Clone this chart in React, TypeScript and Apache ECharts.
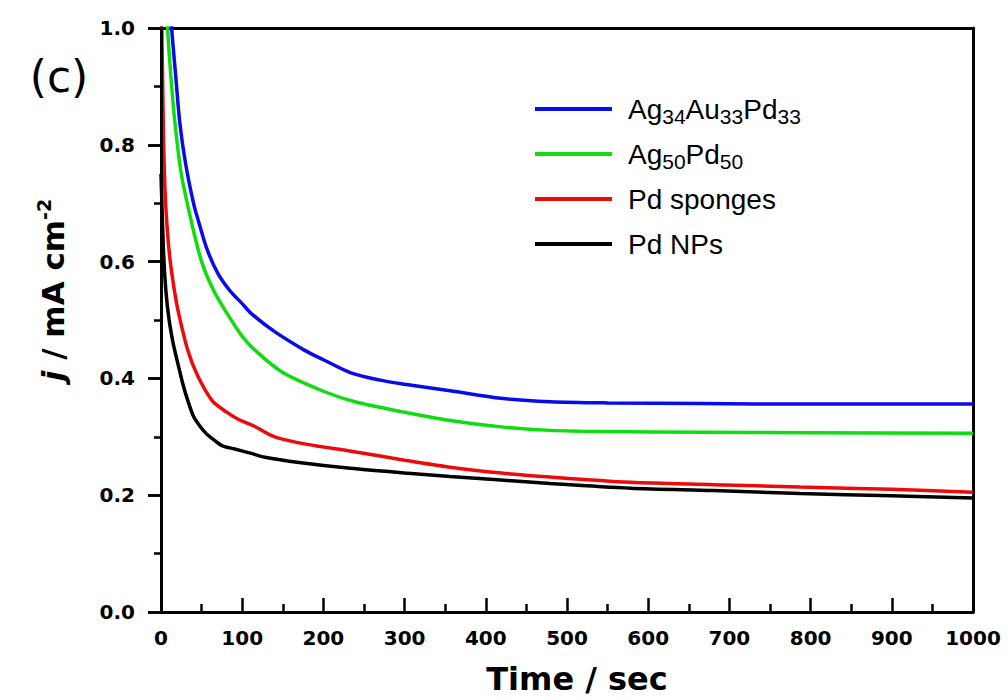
import React, { useEffect, useRef } from "react";
import * as echarts from "echarts";

const seriesNames = ["Ag34Au33Pd33", "Ag50Pd50", "Pd sponges", "Pd NPs"];
const seriesColors = ["#0a0aee", "#10dd10", "#ee0a0a", "#000000"];

const timeBlue = [10, 13, 18, 23, 30, 40, 46, 57, 70, 85, 100, 112, 140, 177, 200, 233, 270, 300, 356, 419, 479, 550, 664, 800, 1000];
const jBlue = [1.06, 1.0, 0.92, 0.84, 0.77, 0.7, 0.67, 0.62, 0.58, 0.55, 0.528, 0.51, 0.48, 0.448, 0.432, 0.41, 0.397, 0.39, 0.379, 0.366, 0.36, 0.358, 0.357, 0.356, 0.356];

const timeGreen = [5, 8, 12, 17, 25, 38, 50, 65, 81, 100, 116, 150, 200, 239, 300, 356, 419, 479, 550, 664, 800, 1000];
const jGreen = [1.08, 1.0, 0.92, 0.84, 0.75, 0.665, 0.6, 0.55, 0.512, 0.472, 0.448, 0.41, 0.378, 0.36, 0.342, 0.328, 0.317, 0.311, 0.309, 0.308, 0.307, 0.306];

const timeRed = [0, 1, 3, 5, 8, 11, 16, 21, 33, 45, 63, 80, 95, 115, 140, 180, 236, 300, 356, 419, 479, 578, 680, 787, 900, 1000];
const jRed = [1.05, 1.0, 0.82, 0.72, 0.65, 0.605, 0.555, 0.516, 0.448, 0.405, 0.362, 0.343, 0.33, 0.318, 0.3, 0.287, 0.275, 0.26, 0.248, 0.238, 0.231, 0.222, 0.218, 0.214, 0.21, 0.205];

const timeBlack = [0, 3, 6, 10, 15, 20, 27, 33, 40, 48, 56, 64, 75, 91, 110, 128, 170, 233, 300, 356, 419, 479, 578, 680, 787, 900, 1000];
const jBlack = [0.75, 0.62, 0.55, 0.5, 0.46, 0.43, 0.39, 0.362, 0.335, 0.318, 0.305, 0.296, 0.285, 0.279, 0.272, 0.265, 0.256, 0.246, 0.238, 0.232, 0.226, 0.22, 0.212, 0.208, 0.203, 0.199, 0.195];

const legendLabels: Record<string, string> = {
  "Ag34Au33Pd33": "{n|Ag}{s|34}{n|Au}{s|33}{n|Pd}{s|33}",
  "Ag50Pd50": "{n|Ag}{s|50}{n|Pd}{s|50}",
  "Pd sponges": "{n|Pd sponges}",
  "Pd NPs": "{n|Pd NPs}",
};

const xTickLabels = ["0", "100", "200", "300", "400", "500", "600", "700", "800", "900", "1000"];

const zip = (t: number[], v: number[]) => t.map((x, i) => [x, v[i]]);

export default function App() {
  const ref = useRef<HTMLDivElement>(null);
  useEffect(() => {
    if (!ref.current) return;
    const chart = echarts.init(ref.current, null, { renderer: "svg" });
    const tickFont = "DejaVu Sans";
    const lineSeries = (name: string, data: number[][]) => ({
      name,
      type: "line",
      data,
      showSymbol: false,
      symbol: "none",
      smooth: 0.3,
      clip: true,
      lineStyle: { width: 3.5 },
      xAxisIndex: 0,
      yAxisIndex: 0,
    });
    const frameAxis = {
      axisLine: { show: true, onZero: false, lineStyle: { color: "#000", width: 3 } },
      axisTick: { show: false },
      axisLabel: { show: false },
      splitLine: { show: false },
    };
    const hiddenX = (gridIndex: number) => ({
      type: "value",
      gridIndex,
      min: 0,
      max: 1,
      show: false,
    });
    chart.setOption({
      animation: false,
      backgroundColor: "#ffffff",
      color: seriesColors,
      grid: [
        { left: 161, top: 28, right: 35, bottom: 88 },
        { left: 148, width: 13, top: 28, bottom: 88 },
        { left: 154, width: 7, top: 28, bottom: 88 },
      ],
      xAxis: [
        {
          type: "value",
          position: "bottom",
          gridIndex: 0,
          min: 0,
          max: 1000,
          interval: 100,
          axisLine: { show: true, onZero: false, lineStyle: { color: "#000", width: 3 } },
          axisTick: { show: true, inside: true, length: 14, lineStyle: { color: "#000", width: 2.5 } },
          minorTick: { show: true, splitNumber: 2, length: 8, lineStyle: { color: "#000", width: 2.5 } },
          splitLine: { show: false },
          axisLabel: {
            show: true,
            margin: 16,
            fontFamily: tickFont,
            fontWeight: "bold",
            fontSize: 20,
            color: "#000",
            formatter: (v: number) => xTickLabels[Math.round(v / 100)] ?? String(v),
          },
        },
        { type: "value", position: "top", gridIndex: 0, min: 0, max: 1000, interval: 100, ...frameAxis },
        hiddenX(1),
        hiddenX(2),
      ],
      yAxis: [
        {
          type: "value",
          position: "left",
          gridIndex: 0,
          min: 0,
          max: 1,
          interval: 0.2,
          z: 10,
          axisLine: { show: true, onZero: false, lineStyle: { color: "#000", width: 3 } },
          axisTick: { show: true, inside: false, length: 13, lineStyle: { color: "#000", width: 2.5 } },
          splitLine: { show: false },
          axisLabel: { show: false },
        },
        { type: "value", position: "right", gridIndex: 0, min: 0, max: 1, interval: 0.2, ...frameAxis },
        {
          type: "value",
          gridIndex: 1,
          position: "left",
          min: 0,
          max: 1,
          interval: 0.2,
          axisLine: { show: false },
          axisTick: { show: false },
          splitLine: { show: true, lineStyle: { color: "#000", width: 2.5 } },
          axisLabel: {
            show: true,
            margin: 13,
            fontFamily: tickFont,
            fontWeight: "bold",
            fontSize: 20,
            color: "#000",
            formatter: (v: number) => v.toFixed(1),
          },
        },
        {
          type: "value",
          gridIndex: 2,
          min: 0,
          max: 1,
          interval: 0.2,
          minorTick: { show: false, splitNumber: 2 },
          axisLine: { show: false },
          axisTick: { show: false },
          axisLabel: { show: false },
          splitLine: { show: false },
          minorSplitLine: { show: true, lineStyle: { color: "#000", width: 2.5 } },
        },
      ],
      legend: {
        orient: "vertical",
        left: 530,
        top: 86,
        icon: "rect",
        itemWidth: 77,
        itemHeight: 4,
        itemGap: 9,
        data: seriesNames,
        formatter: (name: string) => legendLabels[name] ?? name,
        textStyle: {
          color: "#000",
          fontFamily: "Liberation Sans",
          fontSize: 28,
          lineHeight: 36,
          padding: [0, 0, 0, 11],
          rich: {
            n: { fontFamily: "Liberation Sans", fontSize: 28, lineHeight: 36, color: "#000" },
            s: { fontFamily: "Liberation Sans", fontSize: 21, lineHeight: 20, verticalAlign: "bottom", color: "#000" },
          },
        },
      },
      graphic: [
        {
          type: "text",
          x: 59,
          y: 76,
          style: {
            text: "(c)",
            fontFamily: "DejaVu Sans",
            fontSize: 44,
            fill: "#000",
            align: "center",
            verticalAlign: "middle",
          },
        },
        {
          type: "text",
          x: 577,
          y: 679,
          style: {
            text: "Time / sec",
            fontFamily: "DejaVu Sans",
            fontWeight: "bold",
            fontSize: 32,
            fill: "#000",
            align: "center",
            verticalAlign: "middle",
          },
        },
        {
          type: "text",
          x: 53,
          y: 290,
          rotation: Math.PI / 2,
          style: {
            text: "{i|j}{b| / mA cm}{sup|-2}",
            align: "center",
            verticalAlign: "middle",
            fill: "#000",
            rich: {
              i: { fontFamily: "DejaVu Sans", fontStyle: "italic", fontWeight: "bold", fontSize: 31, lineHeight: 38, fill: "#000" },
              b: { fontFamily: "DejaVu Sans", fontWeight: "bold", fontSize: 31, lineHeight: 38, fill: "#000" },
              sup: { fontFamily: "DejaVu Sans", fontWeight: "bold", fontSize: 19, lineHeight: 20, verticalAlign: "top", fill: "#000" },
            },
          },
        },
      ],
      series: [
        lineSeries(seriesNames[0], zip(timeBlue, jBlue)),
        lineSeries(seriesNames[1], zip(timeGreen, jGreen)),
        lineSeries(seriesNames[2], zip(timeRed, jRed)),
        lineSeries(seriesNames[3], zip(timeBlack, jBlack)),
      ],
    });
    return () => chart.dispose();
  }, []);
  return (
    <div
      ref={ref}
      style={{ position: "fixed", left: 0, top: 0, width: 1008, height: 700, background: "#fff" }}
    />
  );
}
